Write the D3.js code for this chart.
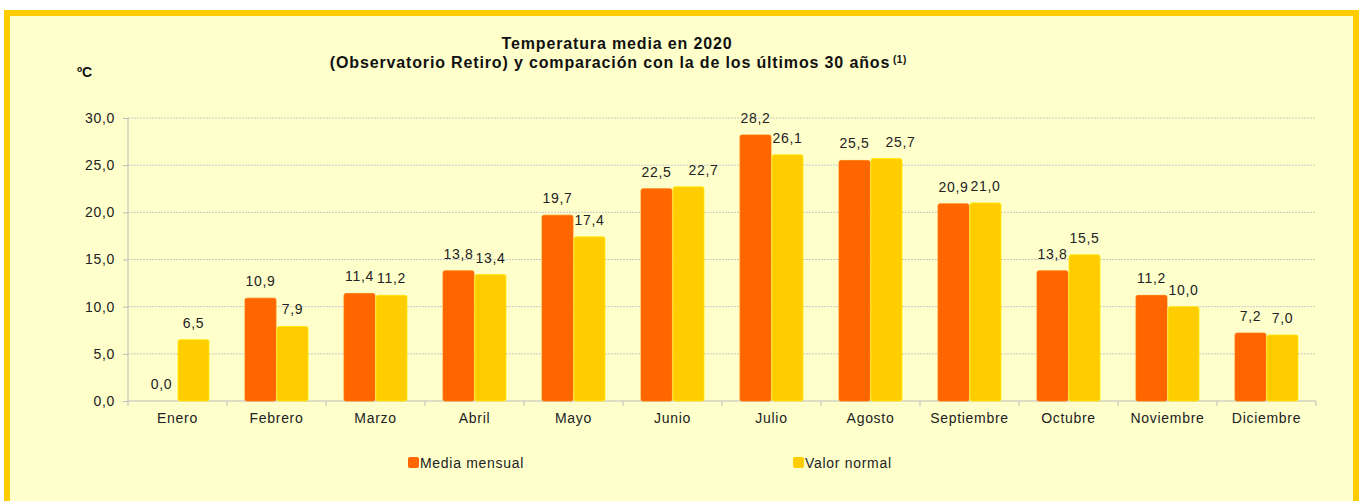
<!DOCTYPE html>
<html>
<head>
<meta charset="utf-8">
<script src="https://cdn.jsdelivr.net/npm/d3@7"></script>
<style>
  body { margin: 0; background: #fff; }
  svg { display: block; font-family: "Liberation Sans", Arial, sans-serif; }
</style>
</head>
<body>
<script>
// Data
var months = ["Enero", "Febrero", "Marzo", "Abril", "Mayo", "Junio", "Julio", "Agosto", "Septiembre", "Octubre", "Noviembre", "Diciembre"];
var mediaMensual = [0.0, 10.9, 11.4, 13.8, 19.7, 22.5, 28.2, 25.5, 20.9, 13.8, 11.2, 7.2];
var valorNormal = [6.5, 7.9, 11.2, 13.4, 17.4, 22.7, 26.1, 25.7, 21.0, 15.5, 10.0, 7.0];
var yTicks = [0, 5, 10, 15, 20, 25, 30];
var seriesNames = ["Media mensual", "Valor normal"];
var colors = ["#FF6600", "#FFCC00"];

// "Valor normal" labels that were moved aside in the original
var labelShift = { "Junio": 15, "Agosto": 14 };

var W = 1359, H = 501;
var fmt = function(v) { return v.toFixed(1).replace(".", ","); };
var LS = 0.7; // letter spacing used for the wide-looking labels

var svg = d3.select("body").append("svg")
    .attr("width", W)
    .attr("height", H);

// background + border
svg.append("rect")
    .attr("x", 7).attr("y", 13)
    .attr("width", W - 10).attr("height", H + 20)
    .attr("fill", "#FFFFCC")
    .attr("stroke", "#FFCC00")
    .attr("stroke-width", 6);

var plotLeft = 128, plotRight = 1316, plotTop = 118, plotBottom = 401;

var x = d3.scaleBand().domain(months).range([plotLeft, plotRight]);
var y = d3.scaleLinear().domain([0, 30]).range([plotBottom, plotTop]);

// gridlines
svg.append("g").selectAll("line")
    .data(yTicks.slice(1))
    .enter().append("line")
    .attr("x1", plotLeft).attr("x2", plotRight)
    .attr("y1", function(d) { return y(d); })
    .attr("y2", function(d) { return y(d); })
    .attr("stroke", "#C8C8C8")
    .attr("stroke-dasharray", "2,1");

// y axis
var yAxis = svg.append("g")
    .attr("transform", "translate(" + plotLeft + ",0)")
    .call(d3.axisLeft(y).tickValues(yTicks).tickFormat(fmt).tickSize(5).tickPadding(8));
yAxis.selectAll("text")
    .attr("font-size", 14).attr("letter-spacing", LS)
    .attr("fill", "#222").attr("font-family", "Liberation Sans, Arial, sans-serif");
yAxis.selectAll("line, path").attr("stroke", "#BBBBBB");
yAxis.select(".domain").attr("d", "M0," + plotTop + "V" + plotBottom);

// x axis
var xAxis = svg.append("g")
    .attr("transform", "translate(0," + plotBottom + ")")
    .call(d3.axisBottom(x).tickSize(0).tickPadding(12));
xAxis.selectAll("text")
    .attr("font-size", 14).attr("letter-spacing", LS)
    .attr("fill", "#222").attr("font-family", "Liberation Sans, Arial, sans-serif");
xAxis.select(".domain").attr("stroke", "#BBBBBB").attr("d", "M" + plotLeft + ",0H" + plotRight);
// category separator ticks
xAxis.selectAll(".sep")
    .data(d3.range(months.length + 1))
    .enter().append("line")
    .attr("class", "sep")
    .attr("x1", function(i) { return plotLeft + i * x.bandwidth(); })
    .attr("x2", function(i) { return plotLeft + i * x.bandwidth(); })
    .attr("y1", 0).attr("y2", 5)
    .attr("stroke", "#BBBBBB");

// bars
var barW = 31, gap = 1;
var series = [mediaMensual, valorNormal];
series.forEach(function(data, s) {
    var offset = s === 0 ? -gap / 2 - barW : gap / 2;
    var g = svg.append("g");
    g.selectAll("rect")
        .data(data.map(function(d, i) { return { v: d, m: months[i] }; }).filter(function(d) { return d.v > 0; }))
        .enter().append("rect")
        .attr("x", function(d) { return x(d.m) + x.bandwidth() / 2 + offset; })
        .attr("y", function(d) { return y(d.v); })
        .attr("width", barW)
        .attr("height", function(d) { return plotBottom - y(d.v); })
        .attr("rx", 2)
        .attr("fill", colors[s])
        .attr("stroke", d3.color(colors[s]).brighter(0.4))
        .attr("stroke-width", 0.8);
    // value labels, centred above each bar
    g.selectAll("text")
        .data(data)
        .enter().append("text")
        .attr("x", function(d, i) {
            var shift = s === 1 ? (labelShift[months[i]] || 0) : 0;
            return x(months[i]) + x.bandwidth() / 2 + offset + barW / 2 + shift;
        })
        .attr("y", function(d) { return y(d) - 12; })
        .attr("text-anchor", "middle")
        .attr("font-size", 14)
        .attr("letter-spacing", LS)
        .attr("fill", "#222")
        .text(fmt);
});

// title
var title = svg.append("text")
    .attr("text-anchor", "middle")
    .attr("font-weight", "bold")
    .attr("font-size", 16)
    .attr("letter-spacing", 0.85)
    .attr("fill", "#111");
title.append("tspan").attr("x", 617).attr("y", 49).text("Temperatura media en 2020");
title.append("tspan").attr("x", 610).attr("y", 68).text("(Observatorio Retiro) y comparación con la de los últimos 30 años");
svg.append("text")
    .attr("x", 893).attr("y", 63)
    .attr("font-weight", "bold")
    .attr("font-size", 10)
    .attr("letter-spacing", 0.5)
    .attr("fill", "#111")
    .text("(1)");

svg.append("text")
    .attr("x", 77).attr("y", 77)
    .attr("font-weight", "bold")
    .attr("font-size", 14)
    .attr("fill", "#111")
    .text("ºC");

// legend
var legendX = [408, 793];
seriesNames.forEach(function(name, i) {
    svg.append("rect")
        .attr("x", legendX[i]).attr("y", 457)
        .attr("width", 11).attr("height", 11)
        .attr("rx", 2)
        .attr("fill", colors[i]);
    svg.append("text")
        .attr("x", legendX[i] + 12).attr("y", 468)
        .attr("font-size", 14)
        .attr("letter-spacing", LS)
        .attr("fill", "#222")
        .text(name);
});
</script>
</body>
</html>
